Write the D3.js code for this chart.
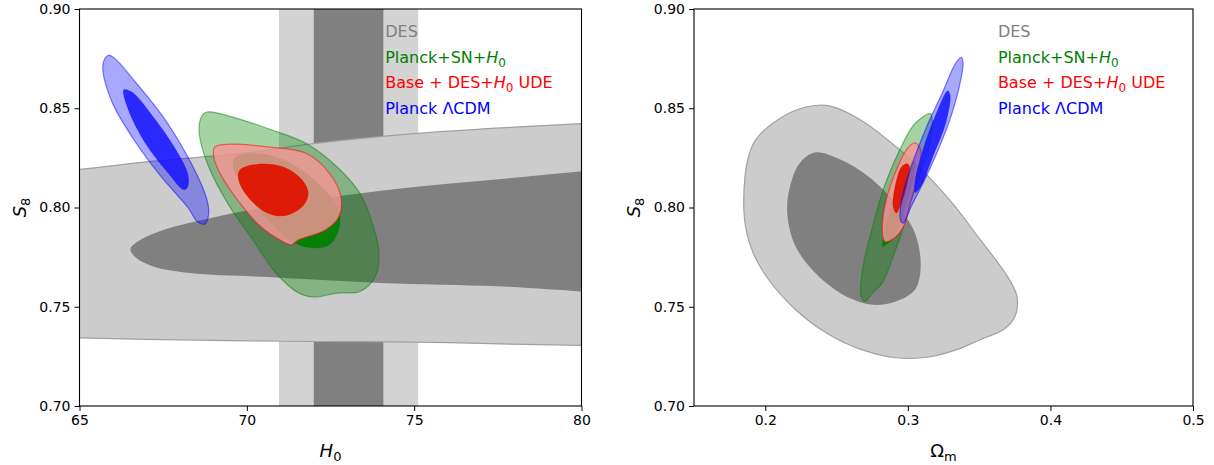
<!DOCTYPE html>
<html>
<head>
<meta charset="utf-8">
<script src="https://cdn.jsdelivr.net/npm/d3@7"></script>
<style>
  body { margin: 0; background: #fff; }
  text { font-family: "DejaVu Sans", sans-serif; }
</style>
</head>
<body>
<div id="chart"></div>
<script>
// contour outlines, [x, S8]

// H0 prior band (mean, sigma)
var h0Prior = [73.04, 1.04];

// left panel: H0 vs S8
var desH0Outer = [[64,0.818],[65,0.8192],[67,0.823],[70,0.8275],[72,0.8322],[75,0.8372],[78,0.8405],[80,0.8423],[81,0.843],
  [81,0.7303],[80,0.7305],[77,0.7315],[75,0.7322],[72,0.7325],[70,0.7328],[67,0.7336],[65,0.7343],[64,0.7345]];
var desH0Inner = [[66.52,0.779],[66.8,0.7835],[67.5,0.7887],[69,0.795],[70,0.7985],[72,0.804],[74,0.8085],[76,0.812],[78,0.815],[80,0.8183],[81,0.8195],
  [81,0.7565],[80,0.7577],[77.5,0.7603],[74,0.762],[70.6,0.765],[68.3,0.767],[67.2,0.7703],[66.7,0.7745]];
var greenH0Outer = [[68.81,0.8481],[69.72,0.8448],[70.64,0.8397],[71.78,0.8322],[72.69,0.8205],[73.38,0.8071],[73.78,0.7904],[73.95,0.777],
  [73.84,0.7653],[73.38,0.7577],[72.69,0.7569],[72.01,0.7549],[71.55,0.7569],[70.87,0.767],[70.18,0.7837],[69.49,0.8004],[68.86,0.8205],[68.58,0.8372],[68.64,0.8456]];
var greenH0Inner = [[69.66,0.8255],[70.41,0.8272],[71.32,0.8222],[72.24,0.8105],[72.75,0.7987],[72.75,0.7887],[72.47,0.7812],[72.01,0.7795],
  [71.44,0.782],[70.64,0.7937],[69.95,0.8088],[69.58,0.8205]];
var redH0Outer = [[69.04,0.8305],[69.49,0.8319],[70.64,0.8305],[71.78,0.8272],[72.47,0.8172],[72.81,0.8054],[72.75,0.7954],[72.35,0.7887],
  [71.55,0.7837],[71.32,0.7812],[70.98,0.7837],[70.41,0.7904],[69.72,0.8038],[69.2,0.8172],[69.01,0.8255]];
var redH0Inner = [[69.78,0.8188],[70.3,0.8218],[71.09,0.8205],[71.66,0.8138],[71.84,0.8071],[71.66,0.8004],[71.09,0.7957],[70.52,0.7979],[69.95,0.8071],[69.75,0.8138]];
var blueH0Outer = [[65.86,0.8767],[65.7,0.872],[65.95,0.854],[66.63,0.834],[67.44,0.8155],[68.24,0.8],[68.52,0.7929],[68.75,0.7917],
  [68.86,0.797],[68.81,0.8038],[68.58,0.814],[68.12,0.829],[67.44,0.847],[66.63,0.864],[66.06,0.875]];
var blueH0Inner = [[66.32,0.8593],[66.46,0.849],[66.98,0.832],[67.66,0.817],[68.12,0.8088],[68.24,0.8105],[68.24,0.817],[67.89,0.829],[67.21,0.8456],[66.58,0.858]];

// right panel: Omega_m vs S8
var desOmOuter = [[0.2375,0.8515],[0.2483,0.8506],[0.2672,0.8439],[0.2861,0.8339],[0.3077,0.8205],[0.3293,0.8038],[0.3509,0.7837],[0.3698,0.7653],
  [0.3765,0.7552],[0.3752,0.7452],[0.3671,0.7385],[0.3509,0.7335],[0.3347,0.7285],[0.3158,0.7248],[0.2915,0.7243],[0.2672,0.7285],
  [0.2429,0.7368],[0.2213,0.7485],[0.2024,0.7636],[0.1916,0.777],[0.1862,0.7904],[0.1849,0.8038],[0.1876,0.8238],[0.193,0.8339],[0.2051,0.8423],[0.2213,0.849]];
var desOmInner = [[0.2348,0.8277],[0.2537,0.8238],[0.2726,0.8155],[0.2915,0.8021],[0.305,0.787],[0.309,0.7703],[0.305,0.7586],[0.2915,0.7527],
  [0.2753,0.751],[0.2591,0.7544],[0.2375,0.7653],[0.2213,0.7803],[0.2154,0.7971],[0.2173,0.8104],[0.224,0.8222]];
var greenOmOuter = [[0.3158,0.8473],[0.3171,0.8439],[0.3158,0.8339],[0.3104,0.8205],[0.3023,0.8038],[0.2955,0.787],[0.2888,0.7736],[0.2821,0.762],
  [0.2753,0.757],[0.27,0.7527],[0.2672,0.7552],[0.2686,0.7703],[0.2753,0.7904],[0.2834,0.8104],[0.2942,0.8289],[0.305,0.8423]];
var greenOmInner = [[0.2821,0.7803],[0.2834,0.787],[0.2915,0.8071],[0.2996,0.8205],[0.305,0.8238],[0.3037,0.8138],[0.2969,0.7971],[0.2888,0.7837]];
var redOmOuter = [[0.305,0.8326],[0.309,0.8289],[0.3077,0.8172],[0.3023,0.8038],[0.2969,0.7904],[0.2902,0.7845],[0.284,0.7828],[0.2821,0.7887],
  [0.2848,0.8038],[0.2929,0.8205],[0.2996,0.8297]];
var redOmInner = [[0.2996,0.8222],[0.3013,0.8205],[0.2996,0.8121],[0.2955,0.802],[0.292,0.7971],[0.2896,0.8004],[0.2909,0.8104],[0.2955,0.8205]];
var blueOmOuter = [[0.3374,0.8757],[0.3387,0.8732],[0.336,0.8607],[0.3293,0.8439],[0.3212,0.8289],[0.3117,0.8138],[0.3023,0.8004],[0.2969,0.7921],
  [0.2948,0.7937],[0.2956,0.8038],[0.3023,0.8205],[0.3131,0.8406],[0.3239,0.8573],[0.3333,0.8724]];
var blueOmInner = [[0.328,0.859],[0.3298,0.8565],[0.3266,0.8423],[0.3185,0.8272],[0.309,0.8104],[0.305,0.8074],[0.305,0.8138],[0.3104,0.8289],[0.3198,0.8473]];

var h0Ticks = [65, 70, 75, 80];
var omTicks = [0.2, 0.3, 0.4, 0.5];
var s8Ticks = [0.70, 0.75, 0.80, 0.85, 0.90];

var svgWidth = 1214;
var svgHeight = 465;

var svg = d3.select("#chart")
  .append("svg")
  .attr("width", svgWidth)
  .attr("height", svgHeight);

var yScale = d3.scaleLinear().domain([0.70, 0.90]).range([406, 9]);
var xLeft = d3.scaleLinear().domain([65, 80]).range([79.5, 581.5]);
var xRight = d3.scaleLinear().domain([0.15, 0.5]).range([694, 1193]);

var styles = {
  desOuter: { fill: "#cccccc", stroke: "#a0a0a0" },
  desInner: { fill: "#808080", stroke: "none" },
  greenOuter: { fill: "rgba(0,128,0,0.35)", stroke: "rgba(0,128,0,0.5)" },
  greenInner: { fill: "rgba(0,128,0,0.9)", stroke: "none" },
  redOuter: { fill: "rgba(245,150,150,0.82)", stroke: "rgba(255,0,0,0.5)" },
  redInner: { fill: "rgba(222,20,0,0.95)", stroke: "none" },
  blueOuter: { fill: "rgba(0,0,255,0.34)", stroke: "rgba(0,0,255,0.5)" },
  blueInner: { fill: "rgba(20,20,255,0.85)", stroke: "none" }
};

function drawPanel(id, x, layers, xTicks, xFmt, prior) {
  var g = svg.append("g");

  g.append("clipPath").attr("id", "clip" + id)
    .append("rect")
    .attr("x", x.range()[0]).attr("y", yScale.range()[1])
    .attr("width", x.range()[1] - x.range()[0])
    .attr("height", yScale.range()[0] - yScale.range()[1]);

  var plot = g.append("g").attr("clip-path", "url(#clip" + id + ")");

  if (prior) {
    [[2, "#d3d3d3"], [1, "#808080"]].forEach(function(b) {
      plot.append("rect")
        .attr("x", x(prior[0] - b[0] * prior[1]))
        .attr("width", x(prior[0] + b[0] * prior[1]) - x(prior[0] - b[0] * prior[1]))
        .attr("y", yScale.range()[1])
        .attr("height", yScale.range()[0] - yScale.range()[1])
        .attr("fill", b[1]);
    });
  }

  var line = d3.line()
    .x(d => x(d[0]))
    .y(d => yScale(d[1]))
    .curve(d3.curveCatmullRomClosed.alpha(0.5));

  layers.forEach(function(l) {
    var s = styles[l[1]];
    plot.append("path")
      .datum(l[0])
      .attr("d", line)
      .attr("fill", s.fill)
      .attr("stroke", s.stroke)
      .attr("stroke-width", 1.2);
  });

  // axes
  var bottomAxis = d3.axisBottom(x).tickValues(xTicks).tickFormat(xFmt).tickSize(5).tickPadding(4);
  var leftAxis = d3.axisLeft(yScale).tickValues(s8Ticks).tickFormat(d3.format(".2f")).tickSize(5).tickPadding(4);

  var ax = g.append("g").attr("transform", `translate(0, ${yScale.range()[0]})`).call(bottomAxis);
  var ay = g.append("g").attr("transform", `translate(${x.range()[0]}, 0)`).call(leftAxis);
  [ax, ay].forEach(function(a) {
    a.select(".domain").remove();
    a.selectAll("text").attr("font-size", 14).attr("fill", "#000")
      .attr("font-family", "DejaVu Sans");
    a.selectAll("line").attr("stroke", "#000");
  });

  g.append("rect")
    .attr("x", x.range()[0]).attr("y", yScale.range()[1])
    .attr("width", x.range()[1] - x.range()[0])
    .attr("height", yScale.range()[0] - yScale.range()[1])
    .attr("fill", "none").attr("stroke", "#000").attr("stroke-width", 1.1);

  // S8 label
  var sl = g.append("text")
    .attr("transform", `translate(${x.range()[0] - 54}, ${(yScale.range()[0] + yScale.range()[1]) / 2}) rotate(-90)`)
    .attr("text-anchor", "middle")
    .attr("font-size", 18);
  sl.append("tspan").attr("font-style", "italic").text("S");
  sl.append("tspan").attr("dy", 4).attr("font-size", 13).text("8");

  // legend
  var lx = x.range()[0] + 0.609 * (x.range()[1] - x.range()[0]);
  var legend = [
    { c: "#808080", parts: [["DES"]] },
    { c: "#008000", parts: [["Planck+SN+"], ["H", "i"], ["0", "s"]] },
    { c: "#ff0000", parts: [["Base + DES+"], ["H", "i"], ["0", "s"], [" UDE", "u"]] },
    { c: "#0000ff", parts: [["Planck \u039BCDM"]] }
  ];
  legend.forEach(function(item, i) {
    var t = g.append("text")
      .attr("x", lx).attr("y", 37 + i * 25.5)
      .attr("fill", item.c)
      .attr("font-size", 16)
      .attr("xml:space", "preserve");
    item.parts.forEach(function(p) {
      var sp = t.append("tspan").text(p[0]);
      if (p[1] === "i") sp.attr("font-style", "italic");
      if (p[1] === "s") sp.attr("dy", 4).attr("font-size", 12);
      if (p[1] === "u") sp.attr("dy", -4);
    });
  });

  return g;
}

var left = drawPanel("L", xLeft, [
  [desH0Outer, "desOuter"], [desH0Inner, "desInner"],
  [greenH0Outer, "greenOuter"], [greenH0Inner, "greenInner"],
  [redH0Outer, "redOuter"], [redH0Inner, "redInner"],
  [blueH0Outer, "blueOuter"], [blueH0Inner, "blueInner"]
], h0Ticks, d3.format("d"), h0Prior);

var right = drawPanel("R", xRight, [
  [desOmOuter, "desOuter"], [desOmInner, "desInner"],
  [greenOmOuter, "greenOuter"], [greenOmInner, "greenInner"],
  [redOmOuter, "redOuter"], [redOmInner, "redInner"],
  [blueOmOuter, "blueOuter"], [blueOmInner, "blueInner"]
], omTicks, d3.format(".1f"), null);

// x axis labels
var hl = left.append("text")
  .attr("x", (xLeft.range()[0] + xLeft.range()[1]) / 2)
  .attr("y", 457).attr("text-anchor", "middle").attr("font-size", 18);
hl.append("tspan").attr("font-style", "italic").text("H");
hl.append("tspan").attr("dy", 4).attr("font-size", 13).text("0");

var ol = right.append("text")
  .attr("x", (xRight.range()[0] + xRight.range()[1]) / 2)
  .attr("y", 457).attr("text-anchor", "middle").attr("font-size", 18);
ol.append("tspan").text("\u03A9");
ol.append("tspan").attr("dy", 4).attr("font-size", 13).text("m");
</script>
</body>
</html>
